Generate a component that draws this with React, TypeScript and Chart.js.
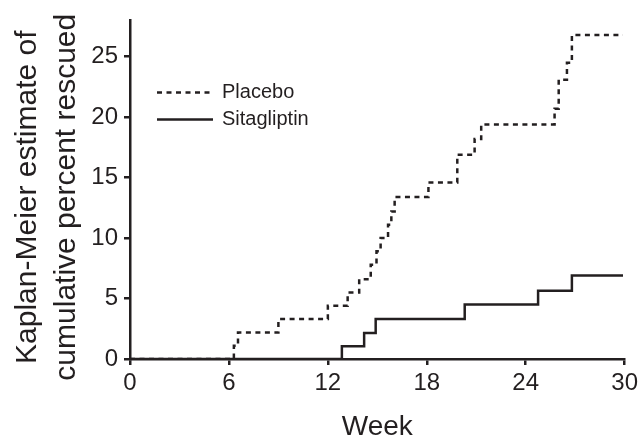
import React, { useEffect, useRef } from 'react';
import { Chart, registerables } from 'chart.js';

Chart.register(...registerables);

// ---- Data ----
const seriesLabels = ['Placebo', 'Sitagliptin'];
const placeboWeeks = [0, 6.3, 6.55, 9.0, 12.0, 13.2, 13.9, 14.6, 14.95, 15.2, 15.65, 15.85, 16.05, 18.1, 19.85, 20.9, 21.3, 25.75, 26.0, 26.5, 26.8, 29.9];
const placeboPct = [0, 1.1, 2.2, 3.3, 4.4, 5.5, 6.6, 7.8, 8.9, 10.0, 11.1, 12.2, 13.4, 14.6, 16.9, 18.2, 19.4, 20.7, 23.1, 24.5, 26.8, 26.8];
const sitaWeeks = [0, 12.85, 14.2, 14.9, 20.3, 24.75, 26.8, 29.9];
const sitaPct = [0, 1.05, 2.15, 3.3, 4.5, 5.65, 6.9, 6.9];

const xTicks = [0, 6, 12, 18, 24, 30];
const yTicks = [0, 5, 10, 15, 20, 25];
const xTitle = 'Week';
const yTitle = ['Kaplan-Meier estimate of', 'cumulative percent rescued'];

const INK = '#231f20';
const FONT = "'Liberation Sans', Arial, Helvetica, sans-serif";

const insideLegend = {
  id: 'insideLegend',
  afterDraw(chart: any) {
    const { ctx, chartArea } = chart;
    ctx.save();
    chart.data.datasets.forEach((ds: any, i: number) => {
      const y = chartArea.top + 72 + i * 27;
      const x0 = chartArea.left + 27;
      ctx.beginPath();
      ctx.setLineDash(ds.borderDash || []);
      ctx.lineWidth = ds.borderWidth;
      ctx.strokeStyle = ds.borderColor;
      ctx.moveTo(x0, y);
      ctx.lineTo(x0 + 56, y);
      ctx.stroke();
      ctx.setLineDash([]);
      ctx.fillStyle = INK;
      ctx.font = `20px ${FONT}`;
      ctx.textBaseline = 'middle';
      ctx.textAlign = 'left';
      ctx.fillText(ds.label, x0 + 65, y);
    });
    ctx.restore();
  },
};

// Rotated two-line y-axis title, drawn beside the y scale
const yAxisTitle = {
  id: 'yAxisTitle',
  afterDraw(chart: any) {
    const { ctx, chartArea } = chart;
    const cy = (chartArea.top + chartArea.bottom) / 2 + 7.5;
    ctx.save();
    ctx.fillStyle = INK;
    ctx.font = `30px ${FONT}`;
    ctx.textAlign = 'center';
    ctx.textBaseline = 'middle';
    yTitle.forEach((line, i) => {
      ctx.save();
      ctx.translate(chartArea.left - 102 + i * 38.5, cy);
      ctx.rotate(-Math.PI / 2);
      ctx.fillText(line, 0, 0);
      ctx.restore();
    });
    ctx.restore();
  },
};

export default function App() {
  const ref = useRef<HTMLCanvasElement>(null);

  useEffect(() => {
    if (!ref.current) return;
    const chart = new Chart(ref.current, {
      type: 'line',
      data: {
        datasets: [
          {
            label: seriesLabels[0],
            data: placeboWeeks.map((w, i) => ({ x: w, y: placeboPct[i] })),
            borderColor: INK,
            borderWidth: 2.5,
            borderDash: [5, 4.5],
            stepped: 'before',
            pointRadius: 0,
            fill: false,
          },
          {
            label: seriesLabels[1],
            data: sitaWeeks.map((w, i) => ({ x: w, y: sitaPct[i] })),
            borderColor: INK,
            borderWidth: 2.5,
            stepped: 'before',
            pointRadius: 0,
            fill: false,
          },
        ],
      },
      options: {
        responsive: false,
        animation: false,
        devicePixelRatio: 1,
        layout: { padding: { left: 0, right: 15, top: 20, bottom: 0 } },
        plugins: { legend: { display: false }, tooltip: { enabled: false } },
        scales: {
          x: {
            type: 'linear',
            min: 0,
            max: 30,
            afterBuildTicks: (s: any) => {
              s.ticks = xTicks.map((v) => ({ value: v }));
            },
            afterFit: (s: any) => {
              s.height = 82;
            },
            ticks: { color: INK, font: { family: FONT, size: 24 }, padding: 4, maxRotation: 0, autoSkip: false },
            grid: { drawOnChartArea: false, drawTicks: true, tickLength: 6, color: INK, lineWidth: 2.5 },
            border: { display: true, color: INK, width: 2.5 },
            title: {
              display: true,
              text: xTitle,
              color: INK,
              font: { family: FONT, size: 28, lineHeight: 1 },
              padding: { top: 0, bottom: 0 },
            },
          },
          y: {
            type: 'linear',
            min: 0,
            max: 28,
            afterBuildTicks: (s: any) => {
              s.ticks = yTicks.map((v) => ({ value: v }));
            },
            afterFit: (s: any) => {
              s.width = 130;
            },
            ticks: { color: INK, font: { family: FONT, size: 24 }, padding: 6 },
            grid: { drawOnChartArea: false, drawTicks: true, tickLength: 6, color: INK, lineWidth: 2.5 },
            border: { display: true, color: INK, width: 2.5 },
          },
        },
      },
      plugins: [insideLegend, yAxisTitle],
    });
    return () => chart.destroy();
  }, []);

  return (
    <div style={{ position: 'fixed', left: 0, top: 0, width: 642, height: 441, background: '#fff' }}>
      <canvas ref={ref} width={642} height={441} style={{ display: 'block' }} />
    </div>
  );
}
